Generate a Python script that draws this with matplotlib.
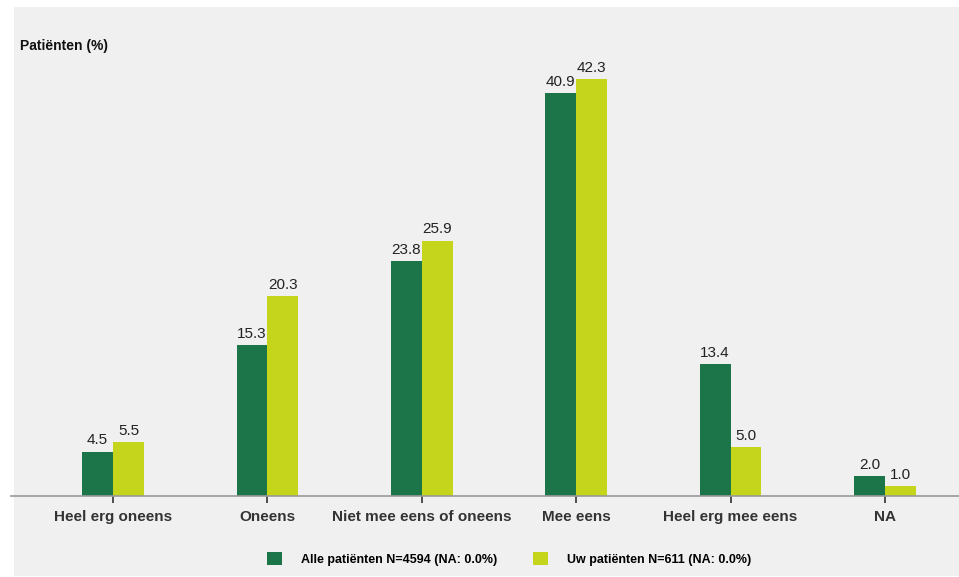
import matplotlib
matplotlib.use("Agg")
import matplotlib.pyplot as plt
import numpy as np
from matplotlib.patches import Patch

categories = ["Heel erg oneens", "Oneens", "Niet mee eens of oneens", "Mee eens", "Heel erg mee eens", "NA"]
alle = [4.5, 15.3, 23.8, 40.9, 13.4, 2.0]
uw = [5.5, 20.3, 25.9, 42.3, 5.0, 1.0]
series_labels = ["Alle patiënten N=4594 (NA: 0.0%)", "Uw patiënten N=611 (NA: 0.0%)"]
ylabel = "Patiënten (%)"

dark = "#1b7548"
light = "#c5d51b"
bg = "#f0f0f0"

plt.rcParams['font.family'] = ['Liberation Sans', 'DejaVu Sans']

W, H = 959, 577
fig = plt.figure(figsize=(W/100, H/100), dpi=100)
fig.patch.set_facecolor("white")
# gray panel
bgax = fig.add_axes([14/W, 1-576/H, 1-14/W, (576-7)/H], zorder=-10)
bgax.set_facecolor(bg)
bgax.set_xticks([]); bgax.set_yticks([])
for s in bgax.spines.values():
    s.set_visible(False)

ax_left, ax_right = 11/W, 1.0
ax_bottom, ax_top = 1-496/H, 1-60/H
ax = fig.add_axes([ax_left, ax_bottom, ax_right-ax_left, ax_top-ax_bottom], zorder=1)
ax.set_facecolor("none")

x = np.arange(len(categories))
w = 0.2
b1 = ax.bar(x - w/2, alle, width=w, color=dark, label=series_labels[0])
b2 = ax.bar(x + w/2, uw, width=w, color=light, label=series_labels[1])
for bars, vals in ((b1, alle), (b2, uw)):
    for r, v in zip(bars, vals):
        ax.annotate(f"{v:.1f}", (r.get_x() + r.get_width()/2, v), xytext=(0, 3),
                    textcoords="offset points", ha="center", va="bottom",
                    fontsize=11, color="#222222")

ax.set_xlim((11-113)/154.4, (959-113)/154.4)
ax.set_ylim(0, 436/9.86)
ax.set_xticks(x)
ax.set_xticklabels(categories, fontsize=11, fontweight="bold", color="#333333")
ax.tick_params(axis="x", length=5, width=1.2, color="#333333", pad=5)
ax.set_yticks([])
for s in ("left", "right", "top"):
    ax.spines[s].set_visible(False)
ax.spines["bottom"].set_color("#999999")
ax.spines["bottom"].set_linewidth(1.2)

fig.text(20/W, 1-46/H, ylabel, fontsize=10, fontweight="bold", color="#111111",
         ha="left", va="center")

handles = [Patch(facecolor=dark), Patch(facecolor=light)]
fig.legend(handles, series_labels, loc="center", bbox_to_anchor=(509/W, 1-559/H),
           ncol=2, frameon=False, prop={"size": 9, "weight": "bold"},
           handlelength=1.2, handleheight=1.2, handletextpad=1.5, columnspacing=2.9)

fig.savefig("out.png", dpi=100, facecolor=fig.get_facecolor())
